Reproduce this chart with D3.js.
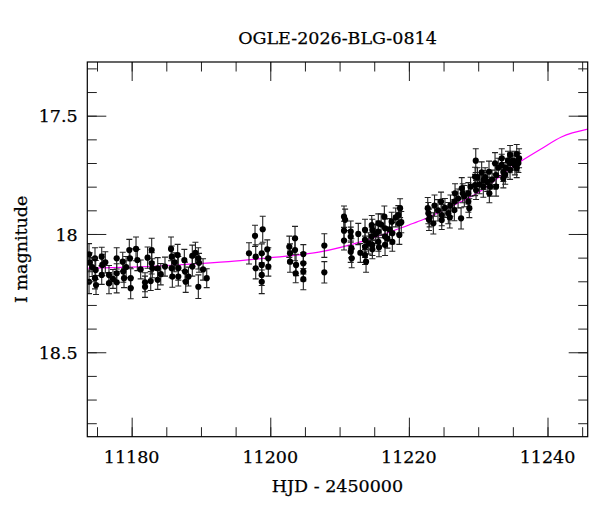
<!DOCTYPE html>
<html><head><meta charset="utf-8">
<script src="https://cdn.jsdelivr.net/npm/d3@7"></script>
<style>
html,body{margin:0;padding:0;background:#fff;}
svg text{font-family:'DejaVu Serif',serif;fill:#000;stroke:#000;stroke-width:0.25px;}
</style></head>
<body>
<svg id="c" width="600" height="512"></svg>
<script>
const title = "OGLE-2026-BLG-0814";
const xLabel = "HJD - 2450000";
const yLabel = "I magnitude";
const xDomain = [11173.6, 11245.8];
const yDomain = [17.273, 18.857];
const xMajor = [11180, 11200, 11220, 11240];
const xMinor = [11175,11180,11185,11190,11195,11200,11205,11210,11215,11220,11225,11230,11235,11240,11245];
const yMajor = [17.5, 18, 18.5];
const yMajorLabels = ["17.5", "18", "18.5"];
const yMinor = [17.3,17.4,17.5,17.6,17.7,17.8,17.9,18.0,18.1,18.2,18.3,18.4,18.5,18.6,18.7,18.8];

const hjd = [
 11173.85, 11173.95, 11173.85, 11174.30, 11174.71, 11174.81, 11174.71, 11174.86, 11175.68, 11175.76,
 11175.68, 11176.20, 11176.73, 11176.73, 11177.30, 11177.84, 11177.84, 11177.84, 11178.71, 11178.79,
 11178.90, 11179.20, 11179.66, 11179.76, 11179.86, 11179.86, 11180.63, 11180.82, 11181.30, 11181.93,
 11181.93, 11182.30, 11182.75, 11182.89, 11182.89, 11182.98, 11183.76, 11183.76, 11184.20, 11184.81,
 11185.68, 11185.78, 11185.78, 11185.87, 11186.20, 11186.64, 11186.73, 11186.73, 11187.60, 11187.70,
 11187.80, 11188.20, 11188.75, 11188.75, 11189.20, 11189.62, 11189.62, 11189.72, 11190.30, 11190.83,
 11196.93, 11197.80, 11197.90, 11197.90, 11198.77, 11198.77, 11198.91, 11198.77, 11198.77, 11199.57,
 11199.72, 11199.72, 11202.75, 11202.85, 11202.85, 11203.57, 11203.57, 11203.67, 11203.72, 11204.77,
 11204.77, 11204.77, 11204.77, 11207.80, 11207.80,
 11210.64, 11210.64, 11210.64, 11211.61, 11211.61, 11211.61, 11211.75, 11213.67, 11213.67, 11213.67,
 11213.67, 11213.82, 11214.64, 11214.73, 11214.64, 11214.73, 11214.73, 11215.59, 11215.59, 11215.59,
 11215.69, 11216.46, 11216.56, 11216.56, 11216.56, 11217.52, 11217.61, 11217.61, 11218.48, 11218.58,
 11218.73, 11218.62, 11210.80, 11211.70, 11212.70, 11213.00, 11214.20, 11215.20, 11216.00, 11216.90,
 11217.20, 11218.10, 11218.90,
 11222.72, 11222.81, 11223.00, 11223.53, 11224.20, 11224.64, 11224.74, 11224.74, 11225.69, 11226.00,
 11226.56, 11226.56, 11226.66, 11227.53, 11227.63, 11227.77, 11228.58, 11228.58, 11228.72, 11229.55,
 11229.55, 11229.65, 11229.69, 11230.20, 11230.74, 11230.74, 11231.00, 11231.56, 11231.61, 11231.71,
 11232.00, 11232.43, 11232.58, 11232.58, 11233.40, 11233.40, 11233.63, 11233.63, 11234.00, 11234.60,
 11234.60, 11234.60, 11235.00, 11235.56, 11235.65, 11235.56, 11235.90, 11222.90, 11223.70, 11225.20,
 11225.90, 11227.10, 11228.00, 11228.90, 11229.90, 11230.50, 11231.30, 11232.90, 11233.90, 11234.30,
 11235.30, 11235.80
];
const mag = [
 18.086, 18.120, 18.202, 18.140, 18.103, 18.152, 18.187, 18.216, 18.096, 18.131,
 18.173, 18.120, 18.173, 18.208, 18.190, 18.103, 18.166, 18.204, 18.117, 18.159,
 18.187, 18.140, 18.068, 18.103, 18.187, 18.229, 18.063, 18.110, 18.150, 18.204,
 18.223, 18.100, 18.199, 18.068, 18.124, 18.145, 18.145, 18.194, 18.170, 18.138,
 18.063, 18.096, 18.145, 18.180, 18.120, 18.089, 18.145, 18.180, 18.110, 18.159,
 18.202, 18.180, 18.092, 18.138, 18.080, 18.103, 18.223, 18.122, 18.150, 18.187,
 18.082, 18.008, 18.096, 18.145, 18.082, 18.131, 17.980, 18.173, 18.202, 18.065,
 18.103, 18.138, 18.054, 18.082, 18.117, 18.018, 18.068, 18.166, 18.131, 18.085,
 18.124, 18.159, 18.191, 18.049, 18.162,
 17.927, 17.986, 18.028, 17.990, 18.011, 18.075, 18.103, 17.983, 18.025, 18.054,
 18.089, 18.117, 17.962, 17.983, 18.011, 18.046, 18.065, 17.955, 17.990, 18.033,
 18.056, 17.927, 17.976, 18.011, 18.046, 17.948, 17.997, 18.033, 17.920, 17.955,
 17.891, 18.004, 17.940, 18.060, 18.000, 18.080, 18.040, 18.000, 17.960, 18.020,
 17.980, 17.930, 17.950,
 17.891, 17.912, 17.930, 17.955, 17.900, 17.863, 17.920, 17.941, 17.912, 17.880,
 17.863, 17.899, 17.828, 17.934, 17.807, 17.828, 17.828, 17.863, 17.891, 17.758,
 17.793, 17.690, 17.814, 17.790, 17.800, 17.772, 17.760, 17.737, 17.828, 17.800,
 17.770, 17.701, 17.751, 17.800, 17.680, 17.708, 17.765, 17.738, 17.720, 17.666,
 17.701, 17.729, 17.690, 17.662, 17.694, 17.722, 17.680, 17.940, 17.880, 17.890,
 17.930, 17.850, 17.840, 17.800, 17.760, 17.740, 17.780, 17.720, 17.750, 17.690,
 17.710, 17.700
];
const err = [
 0.045, 0.040, 0.050, 0.040, 0.045, 0.040, 0.045, 0.040, 0.040, 0.045,
 0.040, 0.045, 0.040, 0.045, 0.040, 0.045, 0.040, 0.045, 0.040, 0.045,
 0.040, 0.045, 0.045, 0.040, 0.040, 0.045, 0.050, 0.045, 0.040, 0.040,
 0.045, 0.045, 0.040, 0.050, 0.045, 0.040, 0.045, 0.040, 0.045, 0.040,
 0.050, 0.045, 0.040, 0.045, 0.040, 0.045, 0.050, 0.040, 0.045, 0.040,
 0.045, 0.040, 0.045, 0.040, 0.045, 0.045, 0.050, 0.040, 0.045, 0.040,
 0.045, 0.045, 0.050, 0.045, 0.040, 0.045, 0.055, 0.045, 0.050, 0.040,
 0.045, 0.040, 0.045, 0.040, 0.045, 0.050, 0.045, 0.040, 0.045, 0.040,
 0.045, 0.040, 0.045, 0.050, 0.045,
 0.045, 0.040, 0.040, 0.045, 0.040, 0.045, 0.040, 0.045, 0.040, 0.045,
 0.040, 0.045, 0.040, 0.045, 0.040, 0.045, 0.040, 0.040, 0.045, 0.040,
 0.040, 0.045, 0.040, 0.040, 0.045, 0.040, 0.045, 0.040, 0.040, 0.045,
 0.040, 0.040, 0.045, 0.040, 0.045, 0.040, 0.045, 0.040, 0.045, 0.040,
 0.045, 0.040, 0.045,
 0.045, 0.045, 0.040, 0.045, 0.045, 0.040, 0.045, 0.040, 0.045, 0.045,
 0.040, 0.045, 0.040, 0.045, 0.045, 0.040, 0.045, 0.045, 0.040, 0.040,
 0.045, 0.050, 0.040, 0.040, 0.045, 0.040, 0.040, 0.045, 0.040, 0.040,
 0.040, 0.045, 0.040, 0.040, 0.040, 0.045, 0.040, 0.040, 0.040, 0.040,
 0.040, 0.040, 0.040, 0.040, 0.040, 0.040, 0.040, 0.045, 0.045, 0.040,
 0.045, 0.040, 0.045, 0.040, 0.040, 0.045, 0.040, 0.040, 0.040, 0.040,
 0.040, 0.040
];
const modelT = [11173.6, 11180, 11187, 11194, 11200, 11207, 11214, 11220, 11222, 11226, 11230, 11235, 11239, 11242, 11245.8];
const modelM = [18.145, 18.140, 18.130, 18.117, 18.100, 18.077, 18.025, 17.962, 17.940, 17.885, 17.825, 17.715, 17.642, 17.590, 17.557];

const svg = d3.select("#c");
const L = 87.3, R = 587.7, T = 62, B = 436.7;
const x = d3.scaleLinear().domain(xDomain).range([L, R]);
const y = d3.scaleLinear().domain(yDomain).range([T, B]);

svg.append("defs").append("clipPath").attr("id","clip")
  .append("rect").attr("x",L).attr("y",T).attr("width",R-L).attr("height",B-T);

const plot = svg.append("g").attr("clip-path","url(#clip)");
const pts = hjd.map((t,i)=>({t, m:mag[i], e:err[i]}));

plot.append("path")
  .datum(modelT.map((t,i)=>[t, modelM[i]]))
  .attr("fill","none").attr("stroke","#ff00ff").attr("stroke-width",1.2)
  .attr("d", d3.line().x(d=>x(d[0])).y(d=>y(d[1])).curve(d3.curveMonotoneX));

const eb = plot.append("g").attr("stroke","#222").attr("stroke-width",1.1);
eb.selectAll("line.v").data(pts).join("line").attr("class","v")
  .attr("x1",d=>x(d.t)).attr("x2",d=>x(d.t))
  .attr("y1",d=>y(d.m-d.e)).attr("y2",d=>y(d.m+d.e));
eb.selectAll("line.c1").data(pts).join("line").attr("class","c1")
  .attr("x1",d=>x(d.t)-3).attr("x2",d=>x(d.t)+3)
  .attr("y1",d=>y(d.m-d.e)).attr("y2",d=>y(d.m-d.e));
eb.selectAll("line.c2").data(pts).join("line").attr("class","c2")
  .attr("x1",d=>x(d.t)-3).attr("x2",d=>x(d.t)+3)
  .attr("y1",d=>y(d.m+d.e)).attr("y2",d=>y(d.m+d.e));

plot.append("g").selectAll("circle").data(pts).join("circle")
  .attr("cx",d=>x(d.t)).attr("cy",d=>y(d.m)).attr("r",3.1).attr("fill","#000");

function ax(gen, scale, vals, size, tr){
  const g = svg.append("g").attr("transform",tr)
    .call(gen(scale).tickValues(vals).tickSize(size).tickFormat(""));
  g.select(".domain").remove();
  g.selectAll(".tick line").attr("stroke","#222").attr("stroke-width",1);
  return g;
}
ax(d3.axisBottom, x, xMinor, -9.5, `translate(0,${B})`);
ax(d3.axisBottom, x, xMajor, -19, `translate(0,${B})`);
ax(d3.axisTop, x, xMinor, -9.5, `translate(0,${T})`);
ax(d3.axisTop, x, xMajor, -19, `translate(0,${T})`);
ax(d3.axisLeft, y, yMinor, -9.5, `translate(${L},0)`);
ax(d3.axisLeft, y, yMajor, -19, `translate(${L},0)`);
ax(d3.axisRight, y, yMinor, -9.5, `translate(${R},0)`);
ax(d3.axisRight, y, yMajor, -19, `translate(${R},0)`);

svg.append("rect").attr("x",L).attr("y",T).attr("width",R-L).attr("height",B-T)
  .attr("fill","none").attr("stroke","#000").attr("stroke-width",1.2);

const fs = 17.5;
svg.append("g").selectAll("text").data(xMajor).join("text")
  .attr("x",d=>x(d)).attr("y",462.7).attr("text-anchor","middle")
  .attr("font-size",fs).text(d=>d);
svg.append("g").selectAll("text").data(yMajor).join("text")
  .attr("x",77.7).attr("y",d=>y(d)+6.6).attr("text-anchor","end")
  .attr("font-size",fs).text((d,i)=>yMajorLabels[i]);

svg.append("text").attr("x",(L+R)/2).attr("y",492).attr("text-anchor","middle")
  .attr("font-size",fs).text(xLabel);
svg.append("text").attr("transform",`translate(26.7,${(T+B)/2}) rotate(-90)`)
  .attr("text-anchor","middle").attr("font-size",fs).text(yLabel);
svg.append("text").attr("x",(L+R)/2).attr("y",44).attr("text-anchor","middle")
  .attr("font-size",fs).text(title);
</script>
</body></html>
